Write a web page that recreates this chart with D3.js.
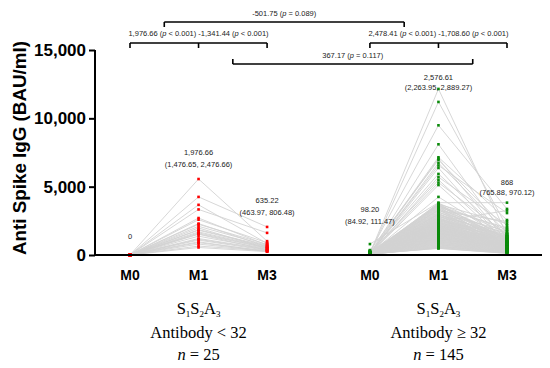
<!DOCTYPE html>
<html>
<head>
<meta charset="utf-8">
<script src="https://cdn.jsdelivr.net/npm/d3@7/dist/d3.min.js"></script>
<style>
  body { margin: 0; background: #fff; }
  svg { display: block; font-family: "Liberation Sans", Arial, sans-serif; }
</style>
</head>
<body>
<svg width="550" height="368"></svg>
<script>
// time points on the x axis
const timepoints = ['M0', 'M1', 'M3']

// group 1: antibody < 32, n = 25 (BAU/ml per subject)
const lowM0 = [0,0,0,0,0,0,0,0,0,0,0,0,0,0,0,0,0,0,0,0,0,0,0,0,0]
const lowM1 = [5560, 4250, 3670, 3333, 2705, 2584, 2300, 2246, 2101, 1980, 1850, 1811, 1690,
  1618, 1550, 1521, 1376, 1207, 1150, 1087, 966, 900, 797, 652, 550]
const lowM3 = [1014, 2053, 845, 1618, 724, 900, 604, 780, 700, 483, 650, 600, 560,
  520, 500, 362, 460, 420, 380, 340, 241, 300, 280, 300, 246]

// group 2: antibody >= 32, n = 145
const highM0 = [120, 80, 240, 60, 150, 90, 330, 45, 110, 70, 190, 55, 130, 85, 40, 100,
  800, 60, 140, 35, 90, 210, 50, 75, 160, 30,
  120, 45, 85, 260, 65, 40, 110, 95, 25, 150,
  70, 180, 55, 100, 35, 130, 80, 60, 230, 45,
  90, 120, 30, 75, 165, 50, 105, 40, 85, 140,
  60, 35, 190, 70, 115, 45, 95, 55, 280, 80,
  40, 125, 65, 100, 30, 155, 50, 85, 70, 110,
  45, 200, 60, 90, 35, 135, 75, 55, 100, 40,
  170, 65, 80, 30, 120, 50, 95, 360, 60, 85,
  35, 145, 70, 105, 45, 90, 55, 130, 40, 75,
  110, 50, 185, 65, 95, 30, 140, 80, 60, 45,
  100, 70, 35, 120, 55, 90, 40, 160, 65,
  85, 50, 125, 75, 40, 210, 60, 95, 35, 145, 70, 105, 45, 90, 55, 130, 30, 80, 60, 115]
const highM1 = [12150, 11200, 9490, 8100, 7150, 7050, 6950, 6730, 6550, 6370, 5930, 5700, 5500, 5300, 5120, 4250,
  3830, 3795, 3760, 3712, 3688, 3640, 3577, 3540, 3492, 3455,
  3410, 3362, 3318, 3270, 3244, 3190, 3138, 3095, 3050, 3012,
  2975, 2940, 2893, 2861, 2820, 2795, 2750, 2716, 2680, 2655,
  2620, 2590, 2561, 2530, 2498, 2470, 2447, 2418, 2390, 2365,
  2340, 2318, 2290, 2266, 2240, 2215, 2193, 2170, 2148, 2125,
  2102, 2080, 2061, 2040, 2018, 1996, 1975, 1952, 1930, 1912,
  1890, 1868, 1847, 1825, 1806, 1784, 1762, 1741, 1720, 1698,
  1676, 1655, 1633, 1610, 1588, 1565, 1540, 1518, 1494, 1470,
  1445, 1420, 1398, 1372, 1346, 1320, 1295, 1268, 1240, 1212,
  1185, 1156, 1126, 1095, 1064, 1030, 996, 960, 922, 884,
  845, 806, 765, 722, 680, 636, 590, 545, 498,
  3620, 3305, 2980, 2710, 2455, 2205, 2010, 1850, 1702, 1535, 1385, 1250, 1105, 980, 870, 760, 655, 560, 520, 480]
const highM3 = [1450, 2050, 3370, 1200, 2560, 980, 1850, 1620, 3070, 760, 1340, 2180, 890, 1480, 640, 1100,
  3830, 1620, 980, 2300, 1150, 870, 1405, 640, 1980, 1220,
  760, 1530, 920, 1310, 2450, 690, 1080, 1750, 540, 1260,
  880, 1420, 610, 1190, 990, 1630, 720, 1050, 470, 1340,
  810, 1120, 580, 950, 1480, 660, 1010, 430, 870, 1230,
  540, 920, 760, 1360, 480, 830, 1090, 390, 700, 980,
  620, 1150, 450, 860, 720, 1280, 520, 940, 360, 790,
  680, 410, 1020, 570, 890, 330, 740, 610, 1160, 460,
  820, 380, 650, 540, 990, 300, 720, 470, 860, 410,
  590, 340, 760, 480, 280, 640, 430, 530, 250, 690,
  380, 560, 310, 470, 220, 410, 350, 290, 460, 200,
  330, 270, 180, 390, 240, 150, 310, 210, 130,
  1850, 560, 1320, 740, 3250, 480, 920, 650, 390, 820, 570, 310, 460, 280, 350, 240, 190, 300, 160, 120]

// mean (95% CI) labels per time point
const lowLabels = [['0'], ['1,976.66', '(1,476.65, 2,476.66)'], ['635.22', '(463.97, 806.48)']]
const highLabels = [['98.20', '(84.92, 111.47)'], ['2,576.61', '(2,263.95, 2,889.27)'], ['868', '(765.88, 970.12)']]
const lowLabelValues = [1170, 7320, 3800]
const highLabelValues = [3130, 12800, 5120]

// comparison brackets
const bracketTexts = ['-501.75', '1,976.66', '-1,341.44', '2,478.41', '-1,708.60', '367.17']
const bracketP = ['= 0.089', '< 0.001', '< 0.001', '< 0.001', '< 0.001', '= 0.117']

const yTicks = [0, 5000, 10000, 15000]

let svg = d3.select('svg')

let x = d3.scaleLinear().domain([0, 5.5]).range([130, 507])
let y = d3.scaleLinear().domain([0, 15000]).range([255, 50])

const groups = [
  {m0: lowM0, m1: lowM1, m3: lowM3, start: 0, color: '#ff0000', labels: lowLabels, lv: lowLabelValues,
    title: 'Antibody < 32', n: '25', gap: [12, 12, 12]},
  {m0: highM0, m1: highM1, m3: highM3, start: 3.5, color: '#0a8a0a', labels: highLabels, lv: highLabelValues,
    title: 'Antibody \u2265 32', n: '145', gap: [12, 9.5, 9.5]}
]

// gray subject lines first
groups.forEach(gr=>{
  let subjects = gr.m0.map((v, i)=>[v, gr.m1[i], gr.m3[i]])
  let line = d3.line()
    .x((d, i)=>x(gr.start + i))
    .y(d=>y(d))
  svg.append('g')
    .selectAll('path')
    .data(subjects)
    .enter()
    .append('path')
    .attr('d', line)
    .attr('fill', 'none')
    .attr('stroke', '#d3d3d3')
    .attr('stroke-width', 0.9)
})

// points
groups.forEach(gr=>{
  let pts = []
  ;[gr.m0, gr.m1, gr.m3].forEach((arr, t)=>{
    arr.forEach(v=>pts.push({t: t, v: v}))
  })
  svg.append('g')
    .selectAll('rect')
    .data(pts)
    .enter()
    .append('rect')
    .attr('x', d=>x(gr.start + d.t) - 1.3)
    .attr('y', d=>y(d.v) - 1.3)
    .attr('width', 2.6)
    .attr('height', 2.6)
    .attr('fill', gr.color)
})

// axes
svg.append('line')
  .attr('x1', 95).attr('x2', 542)
  .attr('y1', y(0)).attr('y2', y(0))
  .attr('stroke', '#000').attr('stroke-width', 2)

let yAxis = svg.append('g')
  .attr('transform', 'translate(95,0)')
  .call(d3.axisLeft(y).tickValues(yTicks).tickFormat(d3.format(',')).tickSize(6).tickPadding(3))
yAxis.select('.domain').attr('stroke-width', 2).attr('d', 'M0,' + y(15000) + 'V' + y(0))
yAxis.selectAll('.tick line').attr('stroke-width', 2)
yAxis.selectAll('.tick text')
  .attr('font-size', 17)
  .attr('font-weight', 'bold')
  .attr('fill', '#000')
  .attr('font-family', '"Liberation Sans", Arial, sans-serif')

svg.append('text')
  .attr('transform', 'translate(26,148) rotate(-90)')
  .attr('text-anchor', 'middle')
  .attr('font-size', 18.8)
  .attr('font-weight', 'bold')
  .text('Anti Spike IgG (BAU/ml)')

// x tick labels
groups.forEach(gr=>{
  timepoints.forEach((tp, i)=>{
    svg.append('text')
      .attr('x', x(gr.start + i))
      .attr('y', 280)
      .attr('text-anchor', 'middle')
      .attr('font-size', 14)
      .attr('font-weight', 'bold')
      .text(tp)
  })

  // group captions
  let cx = x(gr.start + 1)
  let cap = svg.append('g')
    .attr('font-family', '"Liberation Serif", "Times New Roman", serif')
    .attr('font-size', 16.5)
    .attr('text-anchor', 'middle')
  let s = cap.append('text').attr('x', cx).attr('y', 314)
  s.append('tspan').text('S')
  s.append('tspan').attr('font-size', 9).attr('dy', 3).text('1')
  s.append('tspan').attr('dy', -3).text('S')
  s.append('tspan').attr('font-size', 9).attr('dy', 3).text('2')
  s.append('tspan').attr('dy', -3).text('A')
  s.append('tspan').attr('font-size', 9).attr('dy', 3).text('3')
  cap.append('text').attr('x', cx).attr('y', 338).text(gr.title)
  let nt = cap.append('text').attr('x', cx).attr('y', 360)
  nt.append('tspan').attr('font-style', 'italic').text('n')
  nt.append('tspan').text(' = ' + gr.n)

  // mean labels
  gr.labels.forEach((lab, i)=>{
    let t = svg.append('text')
      .attr('x', x(gr.start + i))
      .attr('y', y(gr.lv[i]))
      .attr('text-anchor', 'middle')
      .attr('font-size', 7.5)
      .attr('fill', '#222')
    lab.forEach((l, k)=>{
      t.append('tspan')
        .attr('x', x(gr.start + i))
        .attr('dy', k == 0 ? 0 : gr.gap[i])
        .text(l)
    })
  })
})

// brackets
function bracket(x1, x2, yy, legs, dir){
  let g = svg.append('g').attr('stroke', '#000').attr('stroke-width', 1.6).attr('fill', 'none')
  g.append('line').attr('x1', x1).attr('x2', x2).attr('y1', yy).attr('y2', yy)
  legs.forEach(lx=>{
    g.append('line').attr('x1', lx).attr('x2', lx).attr('y1', yy).attr('y2', yy + dir * 5)
  })
}
function pText(parent, val, p, first){
  if(!first) parent.append('tspan').text(' ')
  parent.append('tspan').text(val + ' (')
  parent.append('tspan').attr('font-style', 'italic').text('p')
  parent.append('tspan').text(' ' + p + ')')
}
function annot(cx, yy, idx){
  let t = svg.append('text')
    .attr('x', cx).attr('y', yy)
    .attr('text-anchor', 'middle')
    .attr('font-size', 7.5)
    .attr('fill', '#222')
  idx.forEach((k, j)=>pText(t, bracketTexts[k], bracketP[k], j == 0))
}

let mid = (a, b)=>(x(a) + x(b)) / 2

bracket(mid(0, 1), mid(3.5, 4.5), 22, [mid(0, 1), mid(3.5, 4.5)], 1)
annot((mid(0, 1) + mid(3.5, 4.5)) / 2, 16, [0])

bracket(x(0), x(2), 43, [x(0), x(1), x(2)], 1)
annot(x(1), 36, [1, 2])

bracket(x(3.5), x(5.5), 43, [x(3.5), x(4.5), x(5.5)], 1)
annot(x(4.5), 36, [3, 4])

bracket(mid(1, 2), mid(4.5, 5.5), 64, [mid(1, 2), mid(4.5, 5.5)], -1)
annot((mid(1, 2) + mid(4.5, 5.5)) / 2, 58, [5])
</script>
</body>
</html>
